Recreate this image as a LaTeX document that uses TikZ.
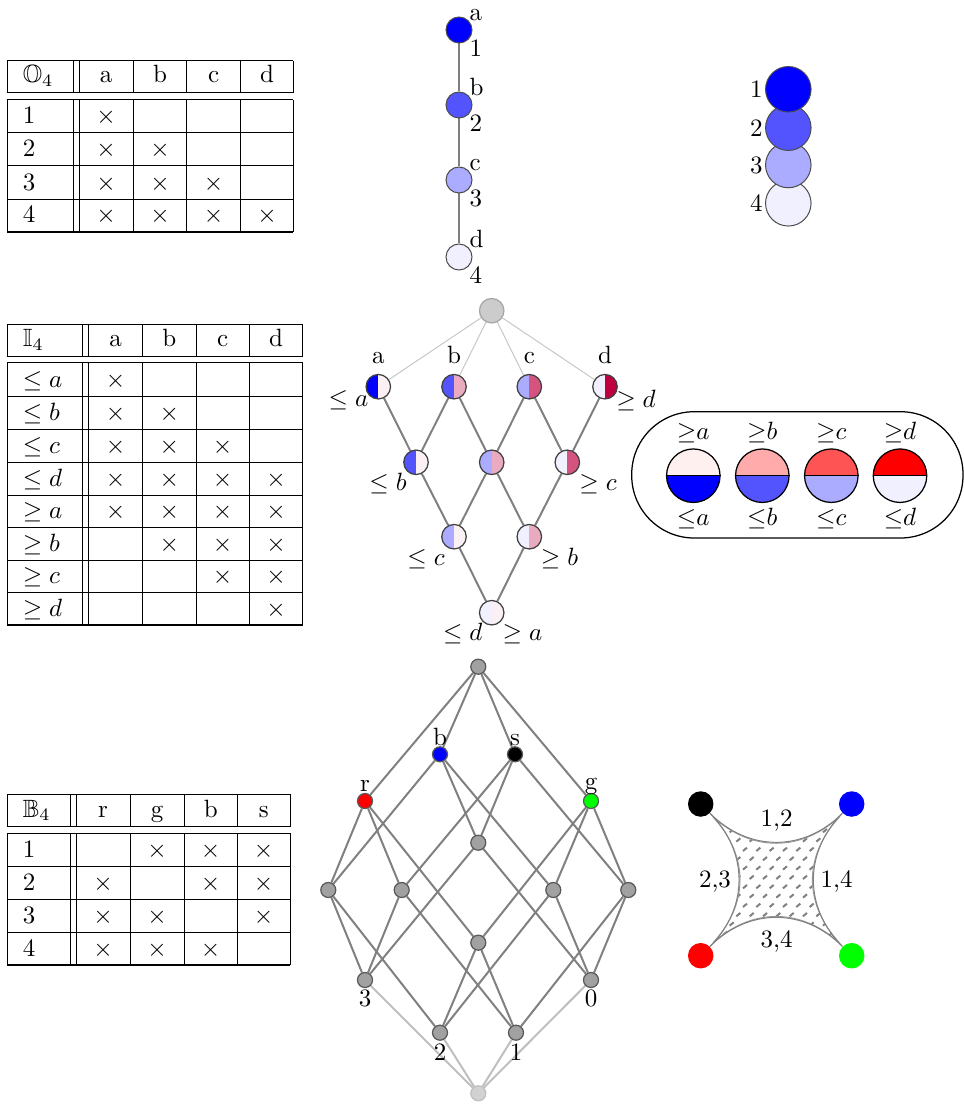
\documentclass[tikz,border=0pt]{standalone}
\usepackage{amssymb}
\pgfdeclarelayer{background}
\pgfsetlayers{background,main}
\tikzset{
  tl/.style={line width=0.4pt},
  tb/.style={line width=0.9pt},
  cell/.style={inner sep=0pt, anchor=base},
  edge/.style={draw=black!50, line width=0.8pt},
  ledge/.style={draw=black!22, line width=0.4pt},
  chainnode/.style={circle, draw=black!70, line width=0.4pt, minimum size=10.4pt, inner sep=0pt},
  bignode/.style={circle, draw=black!70, line width=0.4pt, minimum size=18.2pt, inner sep=0pt},
  lnode/.style={circle, draw=black!75, line width=0.5pt, minimum size=9.8pt, inner sep=0pt},
  gnode/.style={circle, draw=black, line width=0.5pt, minimum size=21.4pt, inner sep=0pt},
  bnode/.style={circle, draw=black!65, fill=black!37, line width=0.5pt, minimum size=6pt, inner sep=0pt},
  cnode/.style={circle, minimum size=10.2pt, inner sep=0pt},
  curve/.style={draw=black!50, line width=0.4pt},
  hatchd/.style={draw=black!50, line width=0.8pt},
  lab/.style={inner sep=0pt, anchor=base}
}
\newcommand\hnode[5]{%
  \begin{scope}
    \clip (#2,#3) circle[radius=4.9pt];
    \fill[#4] (#2,#3) ++(-6pt,-6pt) rectangle ++(6pt,12pt);
    \fill[#5] (#2,#3) ++(0pt,-6pt) rectangle ++(6pt,12pt);
  \end{scope}
  \node[lnode] (#1) at (#2,#3) {};
}
\newcommand\vnode[5]{%
  \begin{scope}
    \clip (#2,#3) circle[radius=10.7pt];
    \fill[#4] (#2,#3) ++(-12pt,0pt) rectangle ++(24pt,12pt);
    \fill[#5] (#2,#3) ++(-12pt,-12pt) rectangle ++(24pt,12pt);
  \end{scope}
  \node[gnode] (#1) at (#2,#3) {};
  \draw[line width=0.5pt] (#1.west) -- (#1.east);
}
\begin{document}
\begin{tikzpicture}[x=0.4pt,y=-0.4pt]
\useasboundingbox (0,0) rectangle (964,1105);

% ---------------- Table O4 ----------------
\foreach \x in {7.3,73.3,79,133.3,186.7,240.7,293.3}{
  \draw[tl] (\x,61) -- (\x,92.7);
  \draw[tl] (\x,100) -- (\x,231.7);
}
\foreach \y in {61,92.7,100,132.7,166,199.3} \draw[tl] (7.3,\y) -- (293.3,\y);
\draw[tb] (7.3,231.7) -- (293.3,231.7);
\node[cell, anchor=base west] (O-h) at (22.3,83) {$\mathbb{O}_4$};
\foreach \l/\x in {a/106.2,b/160,c/213.7,d/267} \node[cell] (O-h\l) at (\x,83) {\l};
\foreach \r/\y in {1/123.7,2/157,3/190.3,4/222.7} \node[cell, anchor=base west] (O-r\r) at (22.3,\y) {\r};
\foreach \r/\c in {1/a,2/a,2/b,3/a,3/b,3/c,4/a,4/b,4/c,4/d}
  \node[cell] (O-\r\c) at (O-h\c.base |- O-r\r.base) {$\times$};

% ---------------- Table I4 ----------------
\foreach \x in {7.3,82.7,88.3,142.7,196,249.3,302.7}{
  \draw[tl] (\x,324) -- (\x,356);
  \draw[tl] (\x,362.7) -- (\x,625);
}
\foreach \y in {324,356,362.7,396,429.3,462.7,495.3,527.3,560,592.7} \draw[tl] (7.3,\y) -- (302.7,\y);
\draw[tb] (7.3,625) -- (302.7,625);
\node[cell, anchor=base west] (I-h) at (22.3,346.3) {$\mathbb{I}_4$};
\foreach \l/\x in {a/115.5,b/169.3,c/222.7,d/276} \node[cell] (I-h\l) at (\x,346.3) {\l};
\foreach \s/\l/\n/\y in {\leq/a/1/387,\leq/b/2/420.3,\leq/c/3/453.7,\leq/d/4/486.3,\geq/a/5/518.3,\geq/b/6/551,\geq/c/7/583.7,\geq/d/8/616}
  \node[cell, anchor=base west] (I-r\n) at (22.3,\y) {$\s \l$};
\foreach \r/\c in {1/a,2/a,2/b,3/a,3/b,3/c,4/a,4/b,4/c,4/d,5/a,5/b,5/c,5/d,6/b,6/c,6/d,7/c,7/d,8/d}
  \node[cell] (I-\r\c) at (I-h\c.base |- I-r\r.base) {$\times$};

% ---------------- Table B4 ----------------
\foreach \x in {7.3,70.7,76,130,184,237.3,290}{
  \draw[tl] (\x,794) -- (\x,826.7);
  \draw[tl] (\x,833.3) -- (\x,965);
}
\foreach \y in {794,826.7,833.3,866.7,899.3,932.7} \draw[tl] (7.3,\y) -- (290,\y);
\draw[tb] (7.3,965) -- (290,965);
\node[cell, anchor=base west] (B-h) at (22.3,817) {$\mathbb{B}_4$};
\foreach \l/\x in {r/103,g/157,b/210.7,s/263.7} \node[cell] (B-h\l) at (\x,817) {\l};
\foreach \r/\y in {1/857.7,2/890.3,3/923.7,4/956} \node[cell, anchor=base west] (B-r\r) at (22.3,\y) {\r};
\foreach \r/\c in {1/g,1/b,1/s,2/r,2/b,2/s,3/r,3/g,3/s,4/r,4/g,4/b}
  \node[cell] (B-\r\c) at (B-h\c.base |- B-r\r.base) {$\times$};

% ---------------- Chain ----------------
\node[chainnode, fill=blue]    (ca) at (459,30) {};
\node[chainnode, fill=blue!67] (cb) at (459,105) {};
\node[chainnode, fill=blue!33] (cc) at (459,180) {};
\node[chainnode, fill=blue!6]  (cd) at (459,257) {};
\begin{pgfonlayer}{background}
\draw[edge] (ca) -- (cb) -- (cc) -- (cd);
\end{pgfonlayer}
\foreach \n/\l/\k/\y in {ca/a/1/30,cb/b/2/105,cc/c/3/180,cd/d/4/257}{
  \node[lab, anchor=base west] (\n-l) at (469,\y-9) {\l};
  \node[lab, anchor=base west] (\n-k) at (469,\y+27) {\k};
}

% ---------------- stacked circles ----------------
\node[bignode, fill=blue!6]  (s4) at (788.3,203.3) {};
\node[bignode, fill=blue!33] (s3) at (788.3,165) {};
\node[bignode, fill=blue!67] (s2) at (788.3,127.7) {};
\node[bignode, fill=blue]    (s1) at (788.3,89.3) {};
\foreach \n/\y in {1/89.3,2/127.7,3/165,4/203.3}
  \node[lab, anchor=base east] (s\n-l) at (763,\y+8.5) {\n};

% ---------------- Interval lattice ----------------
\node[circle, draw=black!35, fill=black!20, line width=0.5pt, minimum size=9.8pt, inner sep=0pt] (LT) at (491.7,310.7) {};
\hnode{LA}{378.3}{386.7}{blue}{purple!6}
\hnode{LB}{454}{386.7}{blue!67}{purple!33}
\hnode{LC}{529.3}{386.7}{blue!33}{purple!67}
\hnode{LD}{605}{386.7}{blue!6}{purple}
\hnode{L2l}{416}{462.3}{blue!67}{purple!6}
\hnode{L2m}{491.7}{462.3}{blue!33}{purple!33}
\hnode{L2r}{567.3}{462.3}{blue!6}{purple!67}
\hnode{L3l}{454}{536.7}{blue!33}{purple!6}
\hnode{L3r}{529.3}{536.7}{blue!6}{purple!33}
\hnode{LBot}{491.7}{612.7}{blue!6}{purple!6}
\begin{pgfonlayer}{background}
\foreach \n in {LA,LB,LC,LD} \draw[ledge] (LT) -- (\n);
\foreach \a/\b in {LA/L2l,LB/L2l,LB/L2m,LC/L2m,LC/L2r,LD/L2r,L2l/L3l,L2m/L3l,L2m/L3r,L2r/L3r,L3l/LBot,L3r/LBot}
  \draw[edge] (\a) -- (\b);
\end{pgfonlayer}
\foreach \n/\l/\x in {LA/a/378.3,LB/b/454,LC/c/529.3,LD/d/605}
  \node[lab] (\n-l) at (\x,363) {\l};
\node[lab] (LA-r) at (348.5,406.7) {$\leq a$};
\node[lab] (LD-r) at (636,407) {$\geq d$};
\node[lab] (L2l-r) at (388,490) {$\leq b$};
\node[lab] (L2r-r) at (598,490) {$\geq c$};
\node[lab] (L3l-r) at (426,565) {$\leq c$};
\node[lab] (L3r-r) at (559.5,565) {$\geq b$};
\node[lab] (LBot-r1) at (462.7,640) {$\leq d$};
\node[lab] (LBot-r2) at (522.5,640) {$\geq a$};

% ---------------- Legend ----------------
\draw[line width=0.5pt, rounded corners=25pt] (631.7,411.7) rectangle (963,538);
\vnode{G1}{693.3}{475.7}{red!6}{blue}
\vnode{G2}{762.3}{475.7}{red!33}{blue!67}
\vnode{G3}{831.3}{475.7}{red!67}{blue!33}
\vnode{G4}{900}{475.7}{red}{blue!6}
\foreach \n/\l/\x in {1/a/693.3,2/b/762.3,3/c/831.3,4/d/900}{
  \node[lab] (G\n-t) at (\x,439) {${\geq}\l$};
  \node[lab] (G\n-b) at (\x,525) {${\leq}\l$};
}

% ---------------- Boolean lattice ----------------
\node[bnode] (BT) at (478.3,666.7) {};
\node[bnode, fill=blue] (Bb) at (440,754.3) {};
\node[bnode, fill=black] (Bs) at (515,754.3) {};
\node[bnode, fill=red] (Br) at (365,801) {};
\node[bnode, fill=green] (Bg) at (591,801) {};
\node[bnode] (BMT) at (478.3,842.7) {};
\node[bnode] (BR1) at (328.3,890) {};
\node[bnode] (BR2) at (401.7,890) {};
\node[bnode] (BR3) at (553.3,890) {};
\node[bnode] (BR4) at (628.3,890) {};
\node[bnode] (BMB) at (478.3,942.7) {};
\node[bnode] (B3) at (365,980) {};
\node[bnode] (B0) at (591,980) {};
\node[bnode] (B2) at (440,1032.7) {};
\node[bnode] (B1) at (516,1032.7) {};
\node[bnode, fill=black!18, draw=black!25] (BBot) at (478.3,1093.3) {};
\begin{pgfonlayer}{background}
\foreach \a/\b in {BT/Br,BT/Bb,BT/Bs,BT/Bg,
  Br/BR1,Br/BR2,Br/BMB, Bb/BR1,Bb/BMT,Bb/BR3, Bs/BR2,Bs/BMT,Bs/BR4, Bg/BR3,Bg/BR4,Bg/BMB,
  BR1/B3,BR1/B2, BR2/B3,BR2/B1, BMT/B3,BMT/B0, BR3/B0,BR3/B2, BR4/B0,BR4/B1, BMB/B2,BMB/B1}
  \draw[edge] (\a) -- (\b);
\foreach \a in {B3,B2,B1,B0} \draw[draw=black!25, line width=0.8pt] (\a) -- (BBot);
\end{pgfonlayer}
\node[lab] (Br-l) at (365,791) {r};
\node[lab] (Bg-l) at (591,789) {g};
\node[lab] (Bb-l) at (440,745.5) {b};
\node[lab] (Bs-l) at (515,745.5) {s};
\node[lab] (B3-l) at (365,1006.7) {3};
\node[lab] (B0-l) at (591,1006.7) {0};
\node[lab] (B2-l) at (440,1060.7) {2};
\node[lab] (B1-l) at (516,1060.7) {1};

% ---------------- Hatched square ----------------
\begin{scope}
  \clip (713,817) .. controls (752,852) and (800.4,852) .. (839.4,817)
        .. controls (803.4,856) and (803.4,903.7) .. (839.4,942.7)
        .. controls (800.4,907.7) and (752,907.7) .. (713,942.7)
        .. controls (749,903.7) and (749,856) .. cycle;
  \foreach \j in {0,...,15}
    \foreach \i in {0,...,11}{
      \pgfmathsetmacro\xx{705+\i*13.33+mod(\j,2)*6.67}
      \pgfmathsetmacro\yy{812+\j*9.33}
      \draw[hatchd] (\xx-2,\yy+1.7) -- (\xx+2,\yy-1.7);
    }
\end{scope}
\draw[curve, draw=black!40] (713,817) .. controls (752,852) and (800.4,852) .. (839.4,817)
        .. controls (803.4,856) and (803.4,903.7) .. (839.4,942.7)
        .. controls (800.4,907.7) and (752,907.7) .. (713,942.7)
        .. controls (749,903.7) and (749,856) .. cycle;
\node[cnode, fill=black] (Qs) at (700.7,804) {};
\node[cnode, fill=blue]  (Qb) at (851.7,804) {};
\node[cnode, fill=red]   (Qr) at (700.7,955.7) {};
\node[cnode, fill=green] (Qg) at (851.7,955.7) {};
\draw[curve] (Qs) .. controls (748.7,852) and (803.7,852) .. (Qb);
\draw[curve] (Qs) .. controls (748.7,852) and (748.7,907.7) .. (Qr);
\draw[curve] (Qb) .. controls (803.7,852) and (803.7,907.7) .. (Qg);
\draw[curve] (Qr) .. controls (748.7,907.7) and (803.7,907.7) .. (Qg);
\node[lab] (Q12) at (776.7,826) {1,2};
\node[lab] (Q23) at (715,887.3) {2,3};
\node[lab] (Q14) at (836.7,887.3) {1,4};
\node[lab] (Q34) at (776.7,947.3) {3,4};
\end{tikzpicture}
\end{document}
